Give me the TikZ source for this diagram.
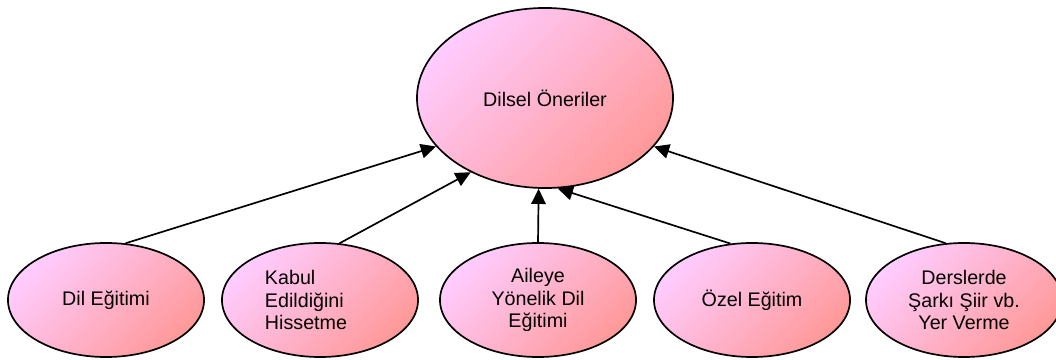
\documentclass[tikz,border=0pt]{standalone}
\usepackage{fontspec}
\setmainfont{Liberation Sans}
\usetikzlibrary{shapes.geometric,arrows.meta}

\definecolor{lilac}{RGB}{255,204,255}
\definecolor{salmon}{RGB}{255,153,153}

\begin{document}
\begin{tikzpicture}[x=0.025cm, y=-0.025cm, line width=1.2pt,
  oval/.style={ellipse, draw=black, inner sep=0pt,
    top color=lilac, bottom color=salmon, shading angle=45,
    font=\fontsize{14pt}{16pt}\selectfont, align=center,
    minimum width=4.9cm, minimum height=2.85cm},
  link/.style={-{Triangle[length=0.38cm, width=0.36cm]}}]
\useasboundingbox (0,0) rectangle (1056,360);

\node[oval, minimum width=6.4cm, minimum height=4.5cm] (oneriler) at (545,98) {Dilsel Öneriler};

\node[oval] (dil) at (106,300) {Dil Eğitimi};
\node[oval, text width=2.75cm, align=left] (kabul) at (320,300) {Kabul\\Edildiğini\\Hissetme};
\node[oval] (aile) at (538,300) {Aileye\\Yönelik Dil\\Eğitimi};
\node[oval] (ozel) at (752,300) {Özel Eğitim};
\node[oval] (sarki) at (964,300) {Derslerde\\Şarkı Şiir vb.\\Yer Verme};

\draw[link] (dil.71) -- (oneriler.204);
\draw[link] (kabul.71) -- (oneriler.225);
\draw[link] (aile.90) -- (oneriler.266);
\draw[link] (ozel.111) -- (oneriler.278);
\draw[link] (sarki.108) -- (oneriler.336);

\end{tikzpicture}
\end{document}
